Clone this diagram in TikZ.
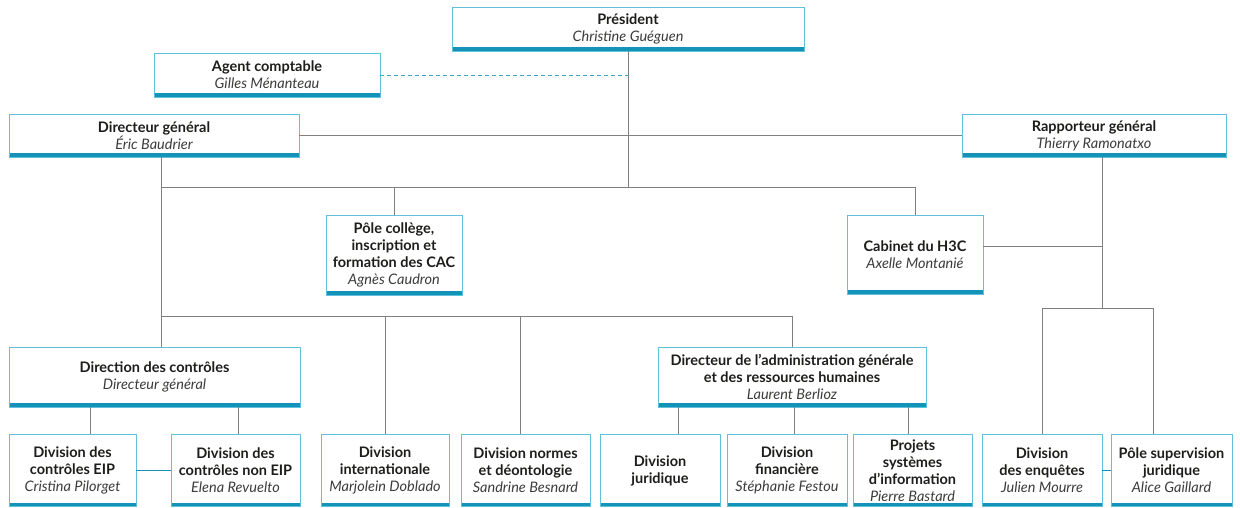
\documentclass[tikz,border=0pt]{standalone}
\usepackage{fontspec}
\setmainfont{Lato}

\definecolor{cadre}{HTML}{62C1DA}
\definecolor{bandeau}{HTML}{1393B8}
\definecolor{pointille}{HTML}{3AA3C8}
\definecolor{trait}{HTML}{808080}
\definecolor{encre}{HTML}{1D1D1B}
\definecolor{grisnom}{HTML}{3C3C3B}

\def \epBandeau {4pt}
\newcommand{\fonction}[1]{{\bfseries\color{encre}#1}}
\newcommand{\personne}[1]{{\itshape\color{grisnom}#1}}

\tikzset{
  boite/.style={draw=cadre, line width=0.8pt, fill=white, align=center, inner sep=0.5pt,
    font=\fontsize{14.5}{17}\selectfont,
    path picture={\fill[bandeau] (path picture bounding box.south west) rectangle ([yshift=\epBandeau]path picture bounding box.south east);}},
  lien/.style={draw=trait, line width=0.8pt},
  lienbleu/.style={draw=bandeau, line width=0.8pt},
}

\begin{document}
\begin{tikzpicture}[x=1pt, y=-1pt]
   \fill[white] (0,0) rectangle (1240,507);
   \useasboundingbox (0,0) rectangle (1240,507);

   % haut
   \node[boite, minimum width=352, minimum height=44] (president) at (628,29) {\fonction{Président}\\\personne{Christine Guéguen}};
   \node[boite, minimum width=226, minimum height=44] (agent) at (267,75) {\fonction{Agent comptable}\\\personne{Gilles Ménanteau}};
   \node[boite, minimum width=290, minimum height=43] (dg) at (154,135.5) {\fonction{Directeur général}\\\personne{Éric Baudrier}};
   \node[boite, minimum width=264, minimum height=43] (rapporteur) at (1094,135.5) {\fonction{Rapporteur général}\\\personne{Thierry Ramonatxo}};

   % milieu
   \node[boite, minimum width=136, minimum height=80] (pole) at (394,255) {\fonction{Pôle collège,}\\\fonction{inscription et}\\\fonction{formation des CAC}\\\personne{Agnès Caudron}};
   \node[boite, minimum width=136, minimum height=79] (cabinet) at (915,254.5) {\fonction{Cabinet du H3C}\\\personne{Axelle Montanié}};
   \node[boite, minimum width=291, minimum height=60] (dircont) at (154.5,377) {\fonction{Direction des contrôles}\\\personne{Directeur général}};
   \node[boite, minimum width=268, minimum height=60] (dagrh) at (792,377) {\fonction{Directeur de l’administration générale}\\\fonction{et des ressources humaines}\\\personne{Laurent Berlioz}};

   % bas
   \node[boite, minimum width=127, minimum height=72] (eip) at (72.5,470.5) {\fonction{Division des}\\\fonction{contrôles EIP}\\\personne{Cristina Pilorget}};
   \node[boite, minimum width=129, minimum height=72] (noneip) at (235.5,470.5) {\fonction{Division des}\\\fonction{contrôles non EIP}\\\personne{Elena Revuelto}};
   \node[boite, minimum width=128, minimum height=72] (intl) at (385,470.5) {\fonction{Division}\\\fonction{internationale}\\\personne{Marjolein Doblado}};
   \node[boite, minimum width=129, minimum height=72] (normes) at (525.5,470.5) {\fonction{Division normes}\\\fonction{et déontologie}\\\personne{Sandrine Besnard}};
   \node[boite, minimum width=120, minimum height=72] (juridique) at (660,470.5) {\fonction{Division}\\\fonction{juridique}};
   \node[boite, minimum width=120, minimum height=72] (financiere) at (787,470.5) {\fonction{Division}\\\fonction{financière}\\\personne{Stéphanie Festou}};
   \node[boite, minimum width=119, minimum height=72] (projets) at (912.5,470.5) {\fonction{Projets}\\\fonction{systèmes}\\\fonction{d’information}\\\personne{Pierre Bastard}};
   \node[boite, minimum width=120, minimum height=72] (enquetes) at (1042,470.5) {\fonction{Division}\\\fonction{des enquêtes}\\\personne{Julien Mourre}};
   \node[boite, minimum width=121, minimum height=72] (supervision) at (1171.5,470.5) {\fonction{Pôle supervision}\\\fonction{juridique}\\\personne{Alice Gaillard}};

   % points de raccord
   \coordinate (axe) at (161,187);
   \coordinate (palier) at (161,316);
   \coordinate (axeR) at (1102,308);
   \coordinate (dNormes) at (520,316);
   \coordinate (dSup) at (1153,308);
   \coordinate (dEip) at (90,407);
   \coordinate (dNonEip) at (238,407);
   \coordinate (dJur) at (678,407);
   \coordinate (dFin) at (794,407);
   \coordinate (dProj) at (908,407);
   \coordinate (cabG) at ([yshift=8pt]cabinet.east);

   % liaisons
   \draw[draw=pointille, line width=0.8pt, dash pattern=on 4pt off 3pt] (agent.east) -- (agent.east -| president.south);
   \draw[lien] (president.south) -- (president.south |- axe);
   \draw[lien] (dg.east) -- (rapporteur.west);
   \draw[lien] (axe |- dg.south) -- (axe |- dircont.north);
   \draw[lien] (axe) -- (axe -| cabinet.north) -- (cabinet.north);
   \draw[lien] (pole.north |- axe) -- (pole.north);
   \draw[lien] (palier) -- (palier -| dagrh.north) -- (dagrh.north);
   \draw[lien] (intl.north |- palier) -- (intl.north);
   \draw[lien] (dNormes) -- (dNormes |- normes.north);
   \draw[lien] (axeR |- rapporteur.south) -- (axeR);
   \draw[lien] (cabG) -- (cabG -| axeR);
   \draw[lien] (enquetes.north) -- (enquetes.north |- axeR) -- (dSup) -- (dSup |- supervision.north);
   \draw[lien] (dEip) -- (dEip |- eip.north);
   \draw[lien] (dNonEip) -- (dNonEip |- noneip.north);
   \draw[lien] (dJur) -- (dJur |- juridique.north);
   \draw[lien] (dFin) -- (dFin |- financiere.north);
   \draw[lien] (dProj) -- (dProj |- projets.north);
   \draw[lienbleu] (eip.east) -- (noneip.west);
   \draw[lienbleu] (enquetes.east) -- (supervision.west);
\end{tikzpicture}
\end{document}
